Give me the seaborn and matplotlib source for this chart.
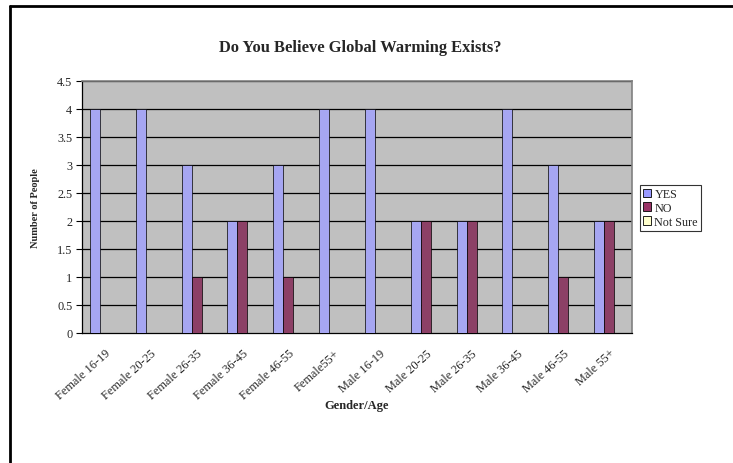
import matplotlib
matplotlib.use("Agg")
import matplotlib.pyplot as plt
from matplotlib.lines import Line2D
from matplotlib.patches import Patch
import seaborn as sns
import pandas as pd
import numpy as np

categories = ["Female 16-19", "Female 20-25", "Female 26-35", "Female 36-45",
              "Female 46-55", "Female55+", "Male 16-19", "Male 20-25",
              "Male 26-35", "Male 36-45", "Male 46-55", "Male 55+"]
yes_vals = [4, 4, 3, 2, 3, 4, 4, 2, 2, 4, 3, 2]
no_vals = [0, 0, 1, 2, 1, 0, 0, 2, 2, 0, 1, 2]
notsure_vals = [0, 0, 0, 0, 0, 0, 0, 0, 0, 0, 0, 0]
series = ["YES", "NO", "Not Sure"]
colors = ["#9999FF", "#993366", "#FFFFCC"]
y_ticks = [0, 0.5, 1, 1.5, 2, 2.5, 3, 3.5, 4, 4.5]

rows = []
for s, vals in zip(series, [yes_vals, no_vals, notsure_vals]):
    for c, v in zip(categories, vals):
        rows.append({"cat": c, "resp": s, "val": v})
df = pd.DataFrame(rows)

sns.set_style("white")
plt.rcParams["font.family"] = ["Liberation Serif", "DejaVu Serif"]

fig = plt.figure(figsize=(7.33, 4.64), dpi=100)
ax = fig.add_axes([82 / 733, 1 - 334 / 464, 550 / 733, 252 / 464])
ax.set_facecolor("#C0C0C0")

sns.barplot(data=df, x="cat", y="val", hue="resp", order=categories,
            hue_order=series, palette=colors, width=0.652,
            edgecolor="black", linewidth=0.5, ax=ax, legend=False, zorder=3)

ax.set_ylim(0, 4.5)
ax.set_xlim(-0.5, len(categories) - 0.5)
ax.set_yticks(y_ticks)
ax.set_yticklabels(["%g" % t for t in y_ticks], fontsize=8.8)
for t in y_ticks[1:]:
    ax.axhline(t, color="black", linewidth=0.9, zorder=1)

ax.set_xticks(range(len(categories)))
ax.set_xticklabels(categories, rotation=42, ha="right",
                   rotation_mode="anchor", fontsize=8.8)
ax.tick_params(axis="x", which="major", length=0, pad=10)
ax.set_xticks(np.arange(-0.5, len(categories) + 0.5, 1), minor=True)
ax.tick_params(axis="x", which="minor", length=4, width=0.8, color="black",
               direction="out")
ax.tick_params(axis="y", length=4, width=0.8, color="black",
               direction="out", pad=3, left=True)

for side in ["top", "right"]:
    ax.spines[side].set_color("#808080")
    ax.spines[side].set_linewidth(1.2)
for side in ["left", "bottom"]:
    ax.spines[side].set_color("black")
    ax.spines[side].set_linewidth(0.9)

ax.set_xlabel("Gender/Age", fontsize=9, fontweight="bold", labelpad=-2)
ax.set_ylabel("Number of People", fontsize=7.5, fontweight="bold", labelpad=12)

fig.text(360 / 733, 1 - 48 / 464, "Do You Believe Global Warming Exists?",
         ha="center", va="center", fontsize=11.9, fontweight="bold")

handles = [Patch(facecolor=c, edgecolor="black", linewidth=0.6) for c in colors]
leg = fig.legend(handles, series, loc="upper left",
                 bbox_to_anchor=(640 / 733, 1 - 186 / 464), fontsize=8.7,
                 frameon=True, fancybox=False, edgecolor="black",
                 handlelength=0.7, handleheight=0.7, handletextpad=0.25,
                 borderpad=0.25, labelspacing=0.15, borderaxespad=0)
leg.get_frame().set_linewidth(0.8)

# outer chart frame (left and top edges visible)
fig.add_artist(Line2D([10 / 733, 10 / 733], [0, 1 - 7 / 464],
                      transform=fig.transFigure, color="black", linewidth=2))
fig.add_artist(Line2D([10 / 733, 1], [1 - 7 / 464, 1 - 7 / 464],
                      transform=fig.transFigure, color="black", linewidth=2))

fig.savefig("out.png", dpi=100)
